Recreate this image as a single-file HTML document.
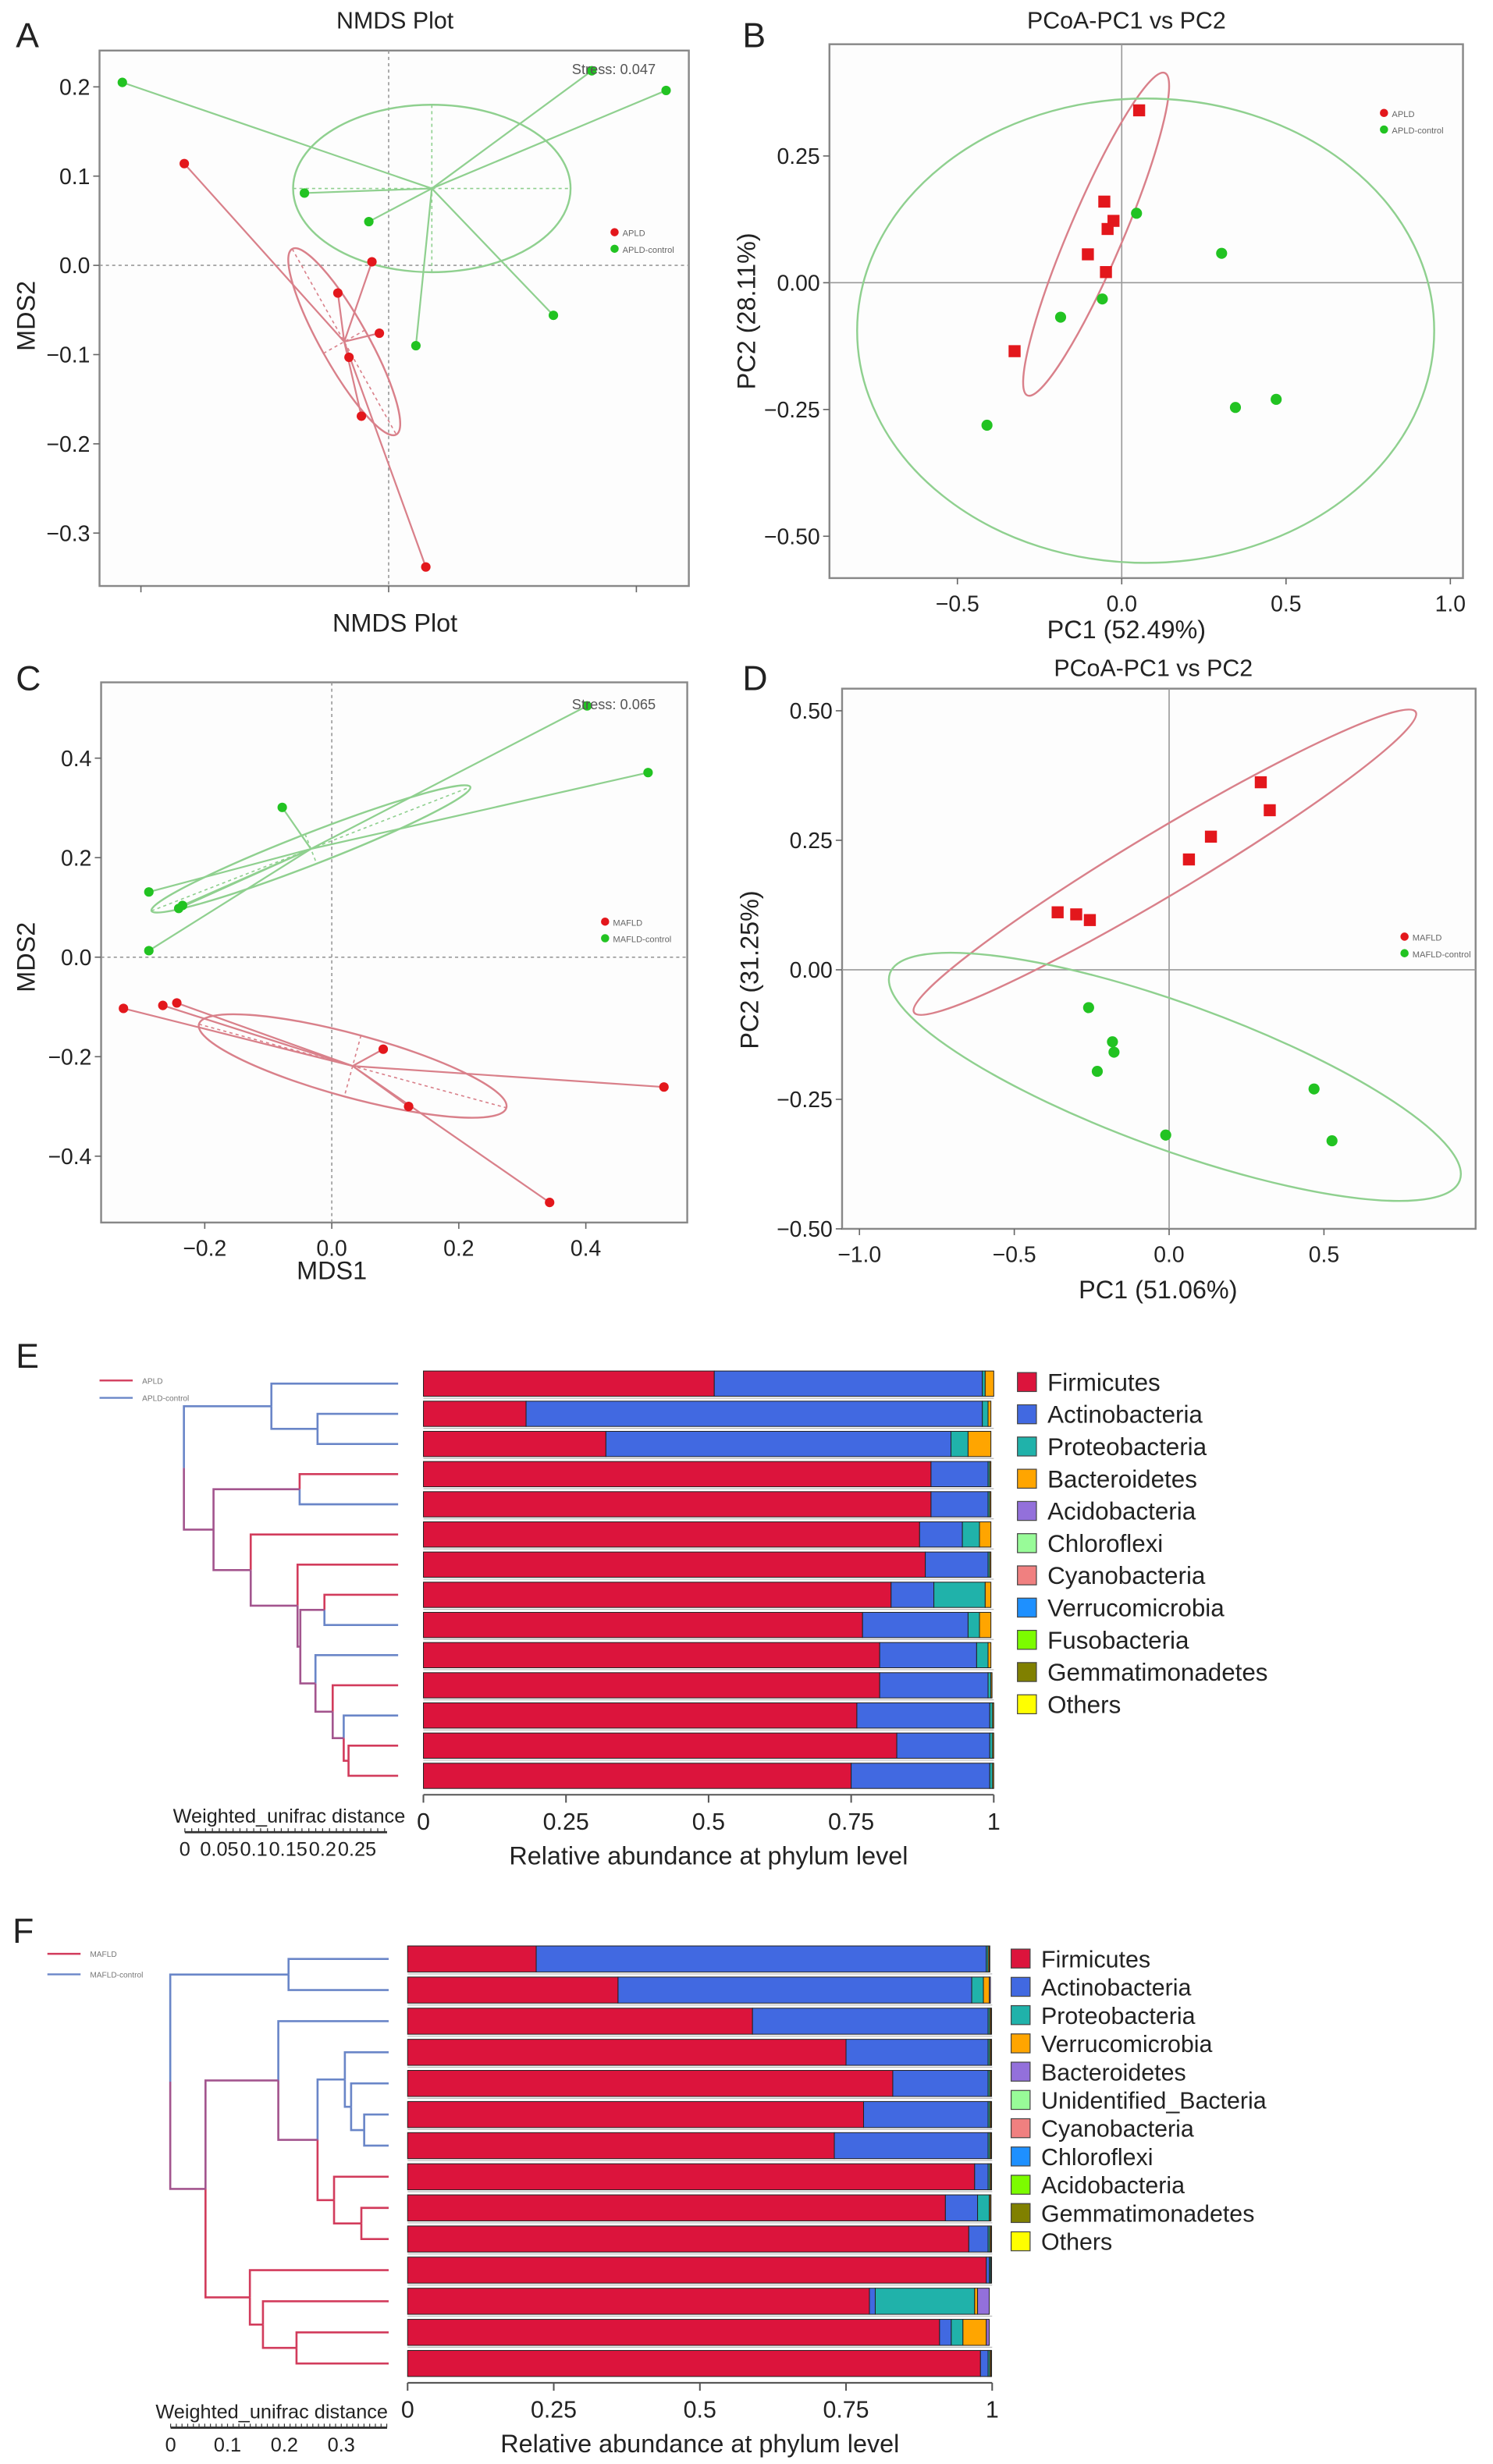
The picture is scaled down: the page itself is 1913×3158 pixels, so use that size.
<!DOCTYPE html>
<html><head><meta charset="utf-8"><title>NMDS / PCoA / phylum abundance</title>
<style>
html,body{margin:0;padding:0;background:#fff;}
svg{display:block;font-family:"Liberation Sans",Arial,sans-serif;}
</style></head>
<body>
<svg id="fig" xmlns="http://www.w3.org/2000/svg" width="1913" height="3158" viewBox="0 0 945 1560" preserveAspectRatio="none">
<rect x="0" y="0" width="945" height="1560" fill="#fff"/>
</svg>
<script>
// ---------- DATA ----------
// Panel A (NMDS)
const aRedX=[-0.165,-0.0135,-0.041,-0.0075,-0.032,-0.022,0.030];
const aRedY=[0.114,0.004,-0.031,-0.076,-0.103,-0.169,-0.338];
const aGreenX=[-0.215,0.164,0.224,-0.068,-0.016,0.022,0.133];
const aGreenY=[0.205,0.218,0.196,0.081,0.049,-0.090,-0.056];
const aYTicks=[0.2,0.1,0.0,-0.1,-0.2,-0.3];
const aXTicks=[-0.4,-0.2,0.0,0.2,0.4];
// Panel B (PCoA)
const bRedX=[0.053,-0.053,-0.025,-0.043,-0.103,-0.048,-0.326];
const bRedY=[0.34,0.16,0.122,0.106,0.056,0.021,-0.135];
const bGreenX=[0.045,0.304,-0.059,-0.186,-0.41,0.346,0.47];
const bGreenY=[0.137,0.058,-0.032,-0.068,-0.281,-0.246,-0.23];
const bXTicks=[-0.5,0.0,0.5,1.0];
const bYTicks=[0.25,0.00,-0.25,-0.50];
// Panel C (NMDS)
const cRedX=[-0.328,-0.266,-0.244,0.081,0.121,0.523,0.343];
const cRedY=[-0.103,-0.097,-0.092,-0.185,-0.300,-0.261,-0.493];
const cGreenX=[-0.288,-0.288,-0.241,-0.235,-0.078,0.402,0.498];
const cGreenY=[0.131,0.013,0.098,0.104,0.301,0.505,0.371];
const cXTicks=[-0.2,0.0,0.2,0.4];
const cYTicks=[0.4,0.2,0.0,-0.2,-0.4];
// Panel D (PCoA)
const dRedX=[-0.36,-0.30,-0.256,0.064,0.135,0.296,0.325];
const dRedY=[0.111,0.107,0.096,0.213,0.257,0.362,0.308];
const dGreenX=[-0.26,-0.183,-0.178,-0.232,-0.011,0.468,0.526];
const dGreenY=[-0.073,-0.139,-0.159,-0.196,-0.319,-0.23,-0.33];
const dXTicks=[-1.0,-0.5,0.0,0.5];
const dYTicks=[0.50,0.25,0.00,-0.25,-0.50];
// Panel E (phylum abundance)
const eTaxa=["Firmicutes","Actinobacteria","Proteobacteria","Bacteroidetes","Acidobacteria","Chloroflexi","Cyanobacteria","Verrucomicrobia","Fusobacteria","Gemmatimonadetes","Others"];
const eFirmicutes=[0.51,0.18,0.32,0.89,0.89,0.87,0.88,0.82,0.77,0.80,0.80,0.76,0.83,0.75];
const eActino=[0.47,0.80,0.605,0.10,0.10,0.075,0.11,0.075,0.185,0.17,0.19,0.233,0.163,0.243];
const eProteo=[0.005,0.01,0.03,0.003,0.003,0.03,0.003,0.09,0.02,0.02,0.005,0.005,0.005,0.005];
const eBactero=[0.015,0.005,0.04,0.002,0.002,0.02,0.002,0.01,0.02,0.005,0.002,0.002,0.002,0.002];
const eGroup=[1,1,1,0,1,0,0,0,1,1,0,1,0,0];
// dendrogram: [distance, left, right]; leaves are bar indices
const eTree=[0.311,[0.184,0,[0.117,1,2]],[0.268,[0.143,3,4],[0.214,5,[0.146,6,[0.142,[0.107,7,8],[0.120,9,[0.095,10,[0.079,11,[0.072,12,13]]]]]]]]];
const eTicks=[0,0.25,0.5,0.75,1];
const eTickLabels=["0","0.25","0.5","0.75","1"];
const eScaleLabels=["0","0.05","0.1","0.15","0.2","0.25"];
// Panel F
const fTaxa=["Firmicutes","Actinobacteria","Proteobacteria","Verrucomicrobia","Bacteroidetes","Unidentified_Bacteria","Cyanobacteria","Chloroflexi","Acidobacteria","Gemmatimonadetes","Others"];
const fFirmicutes=[0.22,0.36,0.59,0.75,0.83,0.78,0.73,0.97,0.92,0.96,0.99,0.79,0.91,0.98];
const fActino=[0.77,0.605,0.403,0.243,0.163,0.213,0.263,0.023,0.055,0.033,0.005,0.01,0.02,0.013];
const fProteo=[0.003,0.02,0.003,0.003,0.003,0.003,0.003,0.003,0.02,0.003,0.002,0.17,0.02,0.003];
const fVerruco=[0.002,0.01,0.002,0.002,0.002,0.002,0.002,0.002,0.002,0.002,0.001,0.005,0.04,0.002];
const fBactero=[0.001,0.002,0.001,0.001,0.001,0.001,0.001,0.001,0.001,0.001,0.001,0.02,0.005,0.001];
const fGroup=[1,1,1,1,1,1,1,0,0,0,0,0,0,0];
const fTree=[0.384,[0.176,0,1],[0.322,[0.194,2,[0.125,[0.077,3,[0.066,4,[0.043,5,6]]],[0.096,7,[0.048,8,9]]]],[0.244,10,[0.221,11,[0.162,12,13]]]]];
const fTicks=[0,0.25,0.5,0.75,1];
const fTickLabels=["0","0.25","0.5","0.75","1"];
const fScaleLabels=["0","0.1","0.2","0.3"];

// ---------- HELPERS ----------
const NS="http://www.w3.org/2000/svg";
const svg=document.getElementById('fig');
function mk(tag,attrs,parent){const e=document.createElementNS(NS,tag);for(const k in attrs)e.setAttribute(k,attrs[k]);(parent||svg).appendChild(e);return e;}
function txt(s,x,y,size,anchor,parent,extra){const e=mk('text',Object.assign({x:x,y:y,'font-size':size,'text-anchor':anchor||'start',fill:'#222'},extra||{}),parent);e.textContent=s;return e;}
const RED="#e3171c",GREEN="#22c322",REDL="#d9808a",GREENL="#8fd08f";
const mean=a=>a.reduce((s,v)=>s+v,0)/a.length;

function scatterPanel(cfg){
  const g=mk('g',{});
  
  
  const X=v=>cfg.x0+v*cfg.kx, Y=v=>cfg.y0-v*cfg.ky;
  const [bx0,by0,bx1,by1]=cfg.box;
  const frame=mk('rect',{x:bx0,y:by0,width:bx1-bx0,height:by1-by0,fill:'#fdfdfd',stroke:'#888','stroke-width':1.2},g);
  
  
  const dash=cfg.dashedZero?'2,2':'none';
  const zx=mk('line',{x1:X(0),x2:X(0),y1:by0,y2:by1,stroke:'#999','stroke-width':0.8,'stroke-dasharray':dash},g);
  
  
  const zy=mk('line',{x1:bx0,x2:bx1,y1:Y(0),y2:Y(0),stroke:'#999','stroke-width':0.8,'stroke-dasharray':dash},g);
  
  
  cfg.yTicks.forEach(t=>{
    const yy=Y(t); if(yy<by0-1||yy>by1+1)return;
    mk('line',{x1:bx0-4,x2:bx0,y1:yy,y2:yy,stroke:'#666','stroke-width':0.8},g);
    if(cfg.yLabels){const l=txt(cfg.yFmt(t),bx0-6,yy+5,14,'end',g);
      
      }
  });
  cfg.xTicks.forEach(t=>{
    const xx=X(t); if(xx<bx0-1||xx>bx1+1)return;
    mk('line',{x1:xx,x2:xx,y1:by1,y2:by1+4,stroke:'#666','stroke-width':0.8},g);
    if(cfg.xLabels){const l=txt(cfg.xFmt(t),xx,by1+21,14,'middle',g);
      
      }
  });
  cfg.groups.forEach(gr=>{
    const cxv=mean(gr.x), cyv=mean(gr.y);
    const cx=X(cxv), cy=Y(cyv);
    const vx=gr.ax*cfg.kx, vy=-gr.ay*cfg.ky;
    const rx=Math.hypot(vx,vy), ang=Math.atan2(vy,vx)*180/Math.PI;
    if(cfg.spider){
      gr.x.forEach((v,i)=>{const l=mk('line',{x1:cx,y1:cy,x2:X(v),y2:Y(gr.y[i]),stroke:gr.light,'stroke-width':1.1},g);
        
        });
      const ux=vx/rx, uy=vy/rx;
      mk('line',{x1:cx-vx,y1:cy-vy,x2:cx+vx,y2:cy+vy,stroke:gr.light,'stroke-width':0.8,'stroke-dasharray':'2,2'},g);
      mk('line',{x1:cx+uy*gr.minor,y1:cy-ux*gr.minor,x2:cx-uy*gr.minor,y2:cy+ux*gr.minor,stroke:gr.light,'stroke-width':0.8,'stroke-dasharray':'2,2'},g);
    }
    const el=mk('ellipse',{cx:cx,cy:cy,rx:rx,ry:gr.minor,fill:'none',stroke:gr.light,'stroke-width':1.2,transform:`rotate(${ang} ${cx} ${cy})`},g);
    
    
  });
  cfg.groups.forEach(gr=>{
    gr.x.forEach((v,i)=>{
      let m;
      if(gr.square) m=mk('rect',{x:X(v)-3.8,y:Y(gr.y[i])-3.8,width:7.6,height:7.6,fill:gr.color},g);
      else m=mk('circle',{cx:X(v),cy:Y(gr.y[i]),r:cfg.r,fill:gr.color},g);
      
      
    });
  });
  const lg=mk('g',{},g);
  
  
  cfg.groups.forEach((gr,i)=>{
    mk('circle',{cx:cfg.leg[0],cy:cfg.leg[1]+i*10.5,r:2.6,fill:gr.color},lg);
    txt(gr.label,cfg.leg[0]+5,cfg.leg[1]+i*10.5+2.5,5.5,'start',lg,{fill:'#666'});
  });
  if(cfg.stress){const s=txt(cfg.stress,cfg.stressPos[0],cfg.stressPos[1],9,'start',g,{fill:'#555'});
    
    }
  return g;
}

const f2=t=>t.toFixed(2).replace('-','\u2212');
const f1=t=>t.toFixed(1).replace('-','\u2212');

scatterPanel({name:'panel-a-nmds',x0:246,kx:784,y0:168,ky:565,box:[63,32,436,371],dashedZero:true,
  yTicks:aYTicks,xTicks:aXTicks,yLabels:true,xLabels:false,yFmt:f1,xFmt:f1,spider:true,r:3,
  groups:[{key:'apld-red',x:aRedX,y:aRedY,color:RED,light:REDL,ax:0.042,ay:-0.104,minor:15,label:'APLD'},
          {key:'control-green',x:aGreenX,y:aGreenY,color:GREEN,light:GREENL,ax:0.112,ay:0,minor:53,label:'APLD-control'}],
  leg:[389,147],stress:'Stress:  0.047',stressPos:[362,47]});
scatterPanel({name:'panel-b-pcoa',x0:710,kx:208,y0:179,ky:321,box:[525,28,926,366],dashedZero:false,
  yTicks:bYTicks,xTicks:bXTicks,yLabels:true,xLabels:true,yFmt:f2,xFmt:f1,spider:false,r:3.5,
  groups:[{key:'apld-red',x:bRedX,y:bRedY,color:RED,light:REDL,ax:0.209,ay:0.318,minor:17,label:'APLD',square:true},
          {key:'control-green',x:bGreenX,y:bGreenY,color:GREEN,light:GREENL,ax:0.878,ay:0,minor:147,label:'APLD-control'}],
  leg:[876,71.5]});
scatterPanel({name:'panel-c-nmds',x0:210,kx:402,y0:606,ky:315,box:[64,432,435,774],dashedZero:true,
  yTicks:cYTicks,xTicks:cXTicks,yLabels:true,xLabels:true,yFmt:f1,xFmt:f1,spider:true,r:3,
  groups:[{key:'apld-red',x:cRedX,y:cRedY,color:RED,light:REDL,ax:0.242,ay:-0.084,minor:20,label:'MAFLD'},
          {key:'control-green',x:cGreenX,y:cGreenY,color:GREEN,light:GREENL,ax:0.251,ay:0.1245,minor:10,label:'MAFLD-control'}],
  leg:[383,583.5],stress:'Stress:  0.065',stressPos:[362,449]});
scatterPanel({name:'panel-d-pcoa',x0:740,kx:196,y0:614,ky:328,box:[533,436,934,778],dashedZero:false,
  yTicks:dYTicks,xTicks:dXTicks,yLabels:true,xLabels:true,yFmt:f2,xFmt:f1,spider:false,r:3.5,
  groups:[{key:'apld-red',x:dRedX,y:dRedY,color:RED,light:REDL,ax:0.81,ay:0.29,minor:20,label:'MAFLD',square:true},
          {key:'control-green',x:dGreenX,y:dGreenY,color:GREEN,light:GREENL,ax:0.92,ay:-0.2,minor:46,label:'MAFLD-control'}],
  leg:[889,593]});

function label(s,x,y,size,name,anchor,rot){
  const e=txt(s,x,y,size,anchor||'start',svg,rot?{transform:`rotate(-90 ${x} ${y})`}:{});
  
  
  return e;
}
label('A',10,30,22,'panel-label-a');
label('B',470,30,22,'panel-label-b');
label('C',10,437,22,'panel-label-c');
label('D',470,437,22,'panel-label-d');
label('E',10,866,22,'panel-label-e');
label('F',8,1230,22,'panel-label-f');
label('NMDS Plot',250,18,15,'panel-a-title','middle');
label('NMDS Plot',250,400,16,'panel-a-x-title','middle');
label('MDS2',22,200,16,'panel-a-y-title','middle',true);
label('PCoA-PC1 vs PC2',713,18,15,'panel-b-title','middle');
label('PC1 (52.49%)',713,404,16,'panel-b-x-title','middle');
label('PC2 (28.11%)',478,197,16,'panel-b-y-title','middle',true);
label('MDS2',22,606,16,'panel-c-y-title','middle',true);
label('MDS1',210,810,16,'panel-c-x-title','middle');
label('PCoA-PC1 vs PC2',730,428,15,'panel-d-title','middle');
label('PC1 (51.06%)',733,822,16,'panel-d-x-title','middle');
label('PC2 (31.25%)',480,614,16,'panel-d-y-title','middle',true);

// ---------- BAR PANELS ----------
const COLS_E=["#dc143c","#4169e1","#20b2aa","#ffa500","#9370db","#98fb98","#f08080","#1e90ff","#7cfc00","#808000","#ffff00"];
const COLS_F=["#dc143c","#4169e1","#20b2aa","#ffa500","#9370db","#98fb98","#f08080","#1e90ff","#7cfc00","#808000","#ffff00"];

function barPanel(cfg){
  const g=mk('g',{});
  
  
  const X=v=>cfg.x0+v*(cfg.x1-cfg.x0);
  const n=cfg.series[0].length;
  const barY=i=>cfg.top+i*cfg.pitch;
  for(let i=0;i<n;i++){
    let acc=0;
    const vals=cfg.series.map(s=>s[i]);
    const rest=Math.max(0,1-vals.reduce((a,b)=>a+b,0));
    const all=vals.concat([rest>0.006?rest:0]);
    all.forEach((v,k)=>{
      if(v<=0)return;
      const colIdx=k<vals.length?k:cfg.colors.length-1;
      const r=mk('rect',{x:X(acc),y:barY(i),width:X(acc+v)-X(acc),height:cfg.bh,fill:cfg.colors[colIdx],stroke:'#222','stroke-width':0.5},g);
      
      
      acc+=v;
    });
    if(i<n-1){
      mk('line',{x1:cfg.x0,x2:cfg.x1,y1:barY(i)+cfg.bh+1.2,y2:barY(i)+cfg.bh+1.2,stroke:'#bbb','stroke-width':0.6},g);
    }
  }
  const ay=cfg.top+(n-1)*cfg.pitch+cfg.bh+4;
  mk('line',{x1:cfg.x0,x2:cfg.x1,y1:ay,y2:ay,stroke:'#555','stroke-width':1},g);
  cfg.ticks.forEach((t,i)=>{
    mk('line',{x1:X(t),x2:X(t),y1:ay,y2:ay+5,stroke:'#555','stroke-width':1},g);
    const l=txt(cfg.tickLabels[i],X(t),ay+22,15,'middle',g);
    
    
  });
  const xt=txt('Relative abundance at phylum level',(cfg.x0+cfg.x1)/2,ay+44,16,'middle',g);
  
  
  cfg.taxa.forEach((t,i)=>{
    const ly=cfg.legY+i*cfg.legPitch;
    const sw=mk('rect',{x:cfg.legX,y:ly-6,width:12,height:12,fill:cfg.colors[i],stroke:'#444','stroke-width':0.6},g);
    
    
    const lt=txt(t,cfg.legX+19,ly+5.5,cfg.legFont,'start',g);
    
    
  });
  const BLUE="#6a86c8",REDD="#d23c5c",MIX="#a3558e";
  const DX=d=>cfg.leafX-d*cfg.dk;
  const leafY=i=>barY(i)+cfg.bh/2;
  function draw(node){
    if(typeof node==='number') return {y:leafY(node),x:cfg.leafX,grp:cfg.group[node]};
    const a=draw(node[1]), b=draw(node[2]);
    const px=DX(node[0]);
    [a,b].forEach(c=>{
      const col=c.grp===1?BLUE:c.grp===0?REDD:MIX;
      const ny=(a.y+b.y)/2;
      const p=mk('path',{d:`M${c.x},${c.y}H${px}V${ny}`,fill:'none',stroke:col,'stroke-width':1.3},g);
      
      
    });
    return {y:(a.y+b.y)/2,x:px,grp:a.grp===b.grp?a.grp:2};
  }
  draw(cfg.tree);
  const sb=cfg.scaleBar;
  const st=txt('Weighted_unifrac distance',sb.cx,sb.y-6,12.5,'middle',g);
  
  
  mk('line',{x1:sb.x0,x2:sb.x1,y1:sb.y,y2:sb.y,stroke:'#333','stroke-width':1.4},g);
  for(let xx=sb.x0;xx<=sb.x1+0.1;xx+=sb.minor) mk('line',{x1:xx,x2:xx,y1:sb.y-2.5,y2:sb.y,stroke:'#333','stroke-width':0.6},g);
  cfg.scaleLabels.forEach((s,i)=>{
    const l=txt(s,sb.x0+i*sb.step*cfg.dk,sb.y+15,12.5,'middle',g);
    
    
  });
  cfg.groupLegend.forEach((gl,i)=>{
    mk('line',{x1:gl.x,x2:gl.x+21,y1:gl.y,y2:gl.y,stroke:i===0?REDD:BLUE,'stroke-width':1.2},g);
    txt(gl.t,gl.x+27,gl.y+2,5,'start',g,{fill:'#777'});
  });
  return g;
}

barPanel({name:'panel-e-phylum-bars',x0:268,x1:629,top:868,pitch:19.1,bh:16,
  series:[eFirmicutes,eActino,eProteo,eBactero],taxa:eTaxa,colors:COLS_E,
  ticks:eTicks,tickLabels:eTickLabels,legX:644,legY:875,legPitch:20.4,legFont:15.5,
  tree:eTree,group:eGroup,leafX:252,dk:436,
  scaleBar:{cx:183,y:1160,x0:117,x1:245,minor:4.36,step:0.05},scaleLabels:eScaleLabels,
  groupLegend:[{x:63,y:874,t:'APLD'},{x:63,y:885,t:'APLD-control'}]});

barPanel({name:'panel-f-phylum-bars',x0:258,x1:628,top:1232,pitch:19.7,bh:16.5,
  series:[fFirmicutes,fActino,fProteo,fVerruco,fBactero],taxa:fTaxa,colors:COLS_F,
  ticks:fTicks,tickLabels:fTickLabels,legX:640,legY:1240,legPitch:17.9,legFont:15,
  tree:fTree,group:fGroup,leafX:246,dk:360,
  scaleBar:{cx:172,y:1537,x0:108,x1:245,minor:3.6,step:0.1},scaleLabels:fScaleLabels,
  groupLegend:[{x:30,y:1237,t:'MAFLD'},{x:30,y:1250,t:'MAFLD-control'}]});
</script>
</body></html>
